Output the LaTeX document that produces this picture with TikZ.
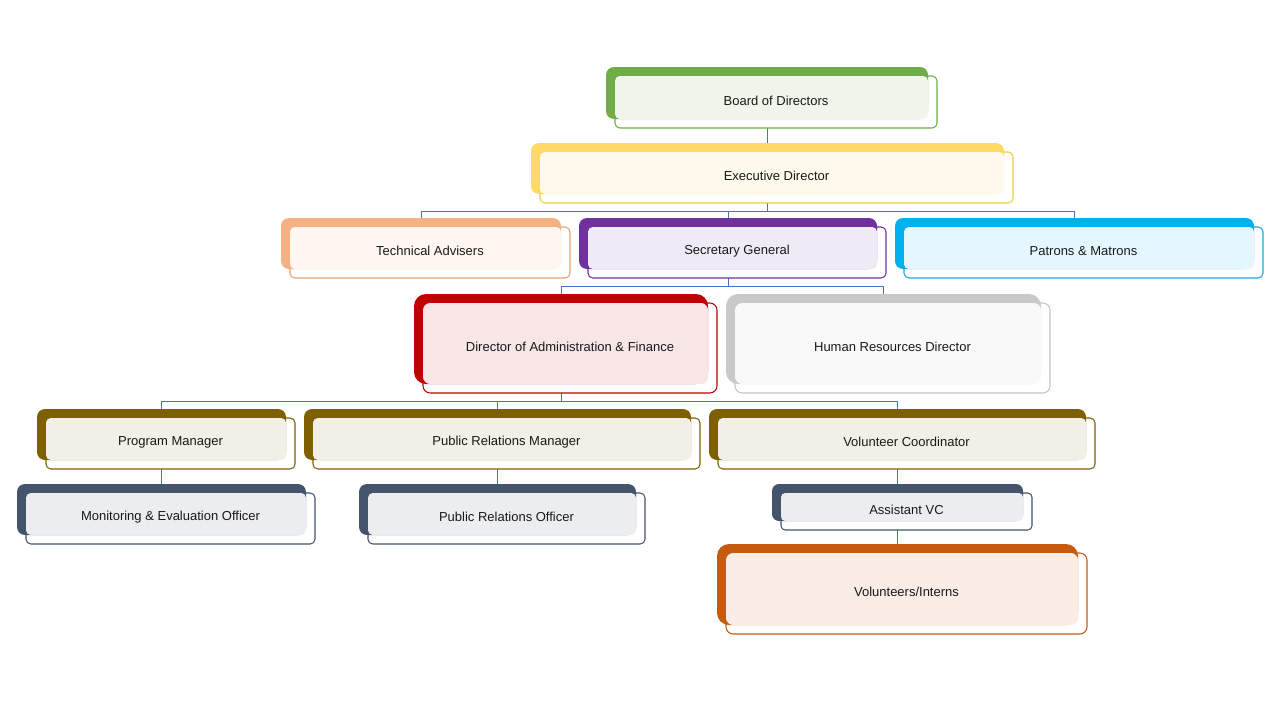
\documentclass[tikz,border=0pt]{standalone}
\usepackage{fontspec}
\setmainfont{Liberation Sans}
\usetikzlibrary{backgrounds}
% back colour, tint, border
\definecolor{green-b}{HTML}{70AD47}\definecolor{green-t}{HTML}{EFF5EB}\definecolor{green-d}{HTML}{70AD47}
\definecolor{yel-b}{HTML}{FFD966}\definecolor{yel-t}{HTML}{FFF9EC}\definecolor{yel-d}{HTML}{F5CB3A}
\definecolor{sal-b}{HTML}{F4B183}\definecolor{sal-t}{HTML}{FEF6F1}\definecolor{sal-d}{HTML}{E8A070}
\definecolor{pur-b}{HTML}{7030A0}\definecolor{pur-t}{HTML}{F0EAF6}\definecolor{pur-d}{HTML}{7030A0}
\definecolor{blu-b}{HTML}{00B0F0}\definecolor{blu-t}{HTML}{E5F7FE}\definecolor{blu-d}{HTML}{1AA8DC}
\definecolor{red-b}{HTML}{C00000}\definecolor{red-t}{HTML}{F8E5E5}\definecolor{red-d}{HTML}{C00000}
\definecolor{gry-b}{HTML}{C9C9C9}\definecolor{gry-t}{HTML}{F9F9F9}\definecolor{gry-d}{HTML}{C4C4C4}
\definecolor{olv-b}{HTML}{7F6000}\definecolor{olv-t}{HTML}{F2EFE6}\definecolor{olv-d}{HTML}{7F6000}
\definecolor{sla-b}{HTML}{44546A}\definecolor{sla-t}{HTML}{ECEDF0}\definecolor{sla-d}{HTML}{44546A}
\definecolor{org-b}{HTML}{C55A11}\definecolor{org-t}{HTML}{F9EDE6}\definecolor{org-d}{HTML}{C55A11}
\definecolor{conn}{HTML}{4472C4}
\tikzset{
  lbl/.style={font=\fontsize{13}{15}\selectfont, text=black!90, inner sep=1pt},
  link/.style={draw=conn, line width=0.9pt},
}
% #1 name, #2 x0, #3 y0, #4 x1, #5 y1, #6 colour family, #7 text, #8 radius
\newcommand\orgbox[8]{%
  \path[draw=#6-d, fill=white, line width=1.05pt, rounded corners={0.6*#8}] (#2+9,#3+9) rectangle (#4+9,#5+9);
  \node[fill=#6-b, rounded corners=#8, minimum width={(#4-#2)*1pt}, minimum height={(#5-#3)*1pt},
        inner sep=0pt, outer sep=0pt, anchor=north west] (#1) at (#2,#3) {};
  \fill[#6-t, rounded corners={0.6*#8}] (#2+9,#3+9) rectangle (#4,#5);
  \node[lbl] (#1-t) at ([shift={(9,7.5)}]#1.center) {#7};
}
\begin{document}
\begin{tikzpicture}[x=1pt,y=-1pt]
\useasboundingbox (0,0) rectangle (1280,720);
\orgbox{board}{606}{67}{928}{119}{green}{Board of Directors}{8}
\orgbox{exec}{531}{143}{1004}{194}{yel}{Executive Director}{8}
\orgbox{tech}{281}{218}{561}{269}{sal}{Technical Advisers}{8}
\orgbox{sec}{579}{218}{877}{269}{pur}{Secretary General}{8}
\orgbox{pat}{895}{218}{1254}{269}{blu}{Patrons \& Matrons}{8}
\orgbox{daf}{414}{294}{708}{384}{red}{Director of Administration \& Finance}{12}
\orgbox{hr}{726}{294}{1041}{384}{gry}{Human Resources Director}{12}
\orgbox{pm}{37}{409}{286}{460}{olv}{Program Manager}{8}
\orgbox{prm}{304}{409}{691}{460}{olv}{Public Relations Manager}{8}
\orgbox{vc}{709}{409}{1086}{460}{olv}{Volunteer Coordinator}{8}
\orgbox{me}{17}{484}{306}{535}{sla}{Monitoring \& Evaluation Officer}{8}
\orgbox{pro}{359}{484}{636}{535}{sla}{Public Relations Officer}{8}
\orgbox{avc}{772}{484}{1023}{521}{sla}{Assistant VC}{7}
\orgbox{vi}{717}{544}{1078}{625}{org}{Volunteers/Interns}{12}
\begin{pgfonlayer}{background}
\draw[link] ([yshift=-9pt]board.south) -- ([yshift=-9pt]board.south |- exec.north);
\draw[link] ([yshift=-9pt]exec.south) -- ++(0,8) -| (tech.north);
\draw[link] ([yshift=-9pt]exec.south) -- ++(0,8) -| (sec.north);
\draw[link] ([yshift=-9pt]exec.south) -- ++(0,8) -| (pat.north);
\draw[link] ([yshift=-9pt]sec.south) -- ++(0,8) -| (daf.north);
\draw[link] ([yshift=-9pt]sec.south) -- ++(0,8) -| (hr.north);
\draw[link] ([yshift=-9pt]daf.south) -- ++(0,8) -| (pm.north);
\draw[link] ([yshift=-9pt]daf.south) -- ++(0,8) -| (prm.north);
\draw[link] ([yshift=-9pt]daf.south) -- ++(0,8) -| (vc.north);
\draw[link] ([yshift=-9pt]pm.south) -- ([yshift=-9pt]pm.south |- me.north);
\draw[link] ([yshift=-9pt]prm.south) -- ([yshift=-9pt]prm.south |- pro.north);
\draw[link] ([yshift=-9pt]vc.south) -- ([yshift=-9pt]vc.south |- avc.north);
\draw[link] ([yshift=-9pt]avc.south) -- ([yshift=-9pt]avc.south |- vi.north);
\end{pgfonlayer}
\end{tikzpicture}
\end{document}
